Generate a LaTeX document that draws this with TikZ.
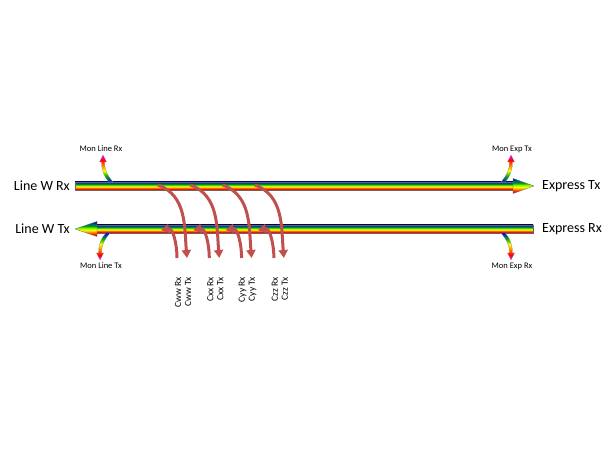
\documentclass[tikz,border=0pt]{standalone}
\usepackage{fontspec}
\setmainfont{Carlito}
\usetikzlibrary{arrows.meta}
\definecolor{dropred}{RGB}{192,80,77}
\pgfdeclareverticalshading{rainbow}{100bp}{color(0bp)=(red!80!black); color(25bp)=(red!80!black); color(32bp)=(red!85!orange); color(39bp)=(orange); color(46bp)=(yellow); color(53bp)=(yellow!50!green); color(60bp)=(green!60!black); color(67bp)=(teal!70!blue); color(75bp)=(blue!50!black); color(100bp)=(blue!50!black)}
\pgfdeclareverticalshading{monup}{100bp}{color(0bp)=(blue); color(25bp)=(blue); color(36bp)=(green!70!black); color(46bp)=(yellow); color(56bp)=(orange); color(65bp)=(red); color(75bp)=(magenta); color(100bp)=(magenta)}
\pgfdeclareverticalshading{mondown}{100bp}{color(0bp)=(magenta); color(25bp)=(magenta); color(35bp)=(red); color(44bp)=(orange); color(54bp)=(yellow); color(64bp)=(green!70!black); color(75bp)=(blue); color(100bp)=(blue)}
\newcommand{\tappath}{(-2,0) .. controls (-7,5) and (-9.5,12) .. (-9.5,20) -- (-11.5,20) -- (-8,27) -- (-4.5,20) -- (-6.5,20) .. controls (-6.5,13) and (-4,7) .. (2,0) -- cycle}
\tikzset{
  fibre/.style={shading=rainbow, draw=black!60, line width=0.3pt},
  tap/.style={draw=black!50, line width=0.2pt},
  drop/.style={dropred, line width=3pt, -{Triangle[width=9pt,length=8pt]}},
  lbl/.style={font=\fontsize{14}{16}\selectfont, inner sep=0pt},
  monlbl/.style={font=\fontsize{8.5}{10}\selectfont, inner sep=0pt},
  portlbl/.style={font=\fontsize{9.5}{11}\selectfont, inner sep=0pt, rotate=90, anchor=east}
}
\begin{document}
\begin{tikzpicture}[x=1pt, y=1pt]
\useasboundingbox (0,0) rectangle (610,450);
% fibre pair
\shade[fibre] (75,260) rectangle (514,268);
\shade[fibre] (513,256.5) -- (534,264) -- (513,271.5) -- cycle;
\shade[fibre] (96,217) rectangle (533,225);
\shade[fibre] (97,213.5) -- (75,221) -- (97,228.5) -- cycle;
\node[lbl, anchor=east] (linewrx) at (70,264) {Line W Rx};
\node[lbl, anchor=east] (linewtx) at (70,221) {Line W Tx};
\node[lbl, anchor=west] (exptx) at (542,264) {Express Tx};
\node[lbl, anchor=west] (exprx) at (542,221) {Express Rx};
% monitor taps
\shade[shading=monup, tap, shift={(111,268)}] \tappath;
\shade[shading=monup, tap, shift={(503,268)}, xscale=-1] \tappath;
\shade[shading=mondown, tap, shift={(108,217)}, yscale=-1] \tappath;
\shade[shading=mondown, tap, shift={(503,217)}, xscale=-1, yscale=-1] \tappath;
\node[monlbl] (monlinerx) at (101,301) {Mon Line Rx};
\node[monlbl] (monexptx) at (512,301) {Mon Exp Tx};
\node[monlbl] (monlinetx) at (101,184) {Mon Line Tx};
\node[monlbl] (monexprx) at (512,184) {Mon Exp Rx};
% channel drops and adds
\foreach \i/\c in {0/ww,1/xx,2/yy,3/zz} {
  \coordinate (drop\c) at ({158+32.3*\i},265);
  \coordinate (dropend\c) at ({187+32.3*\i},192);
  \coordinate (add\c) at ({177+32.3*\i},192);
  \coordinate (addend\c) at ({161+32.3*\i},220);
  \draw[drop] (drop\c) to[out=-20,in=95] (dropend\c);
  \draw[drop] (add\c) to[out=90,in=10] (addend\c);
  \node[portlbl] (rx\c) at ({178+32.3*\i},173) {C\c{} Rx};
  \node[portlbl] (tx\c) at ({188+32.3*\i},173) {C\c{} Tx};
}
\end{tikzpicture}
\end{document}
